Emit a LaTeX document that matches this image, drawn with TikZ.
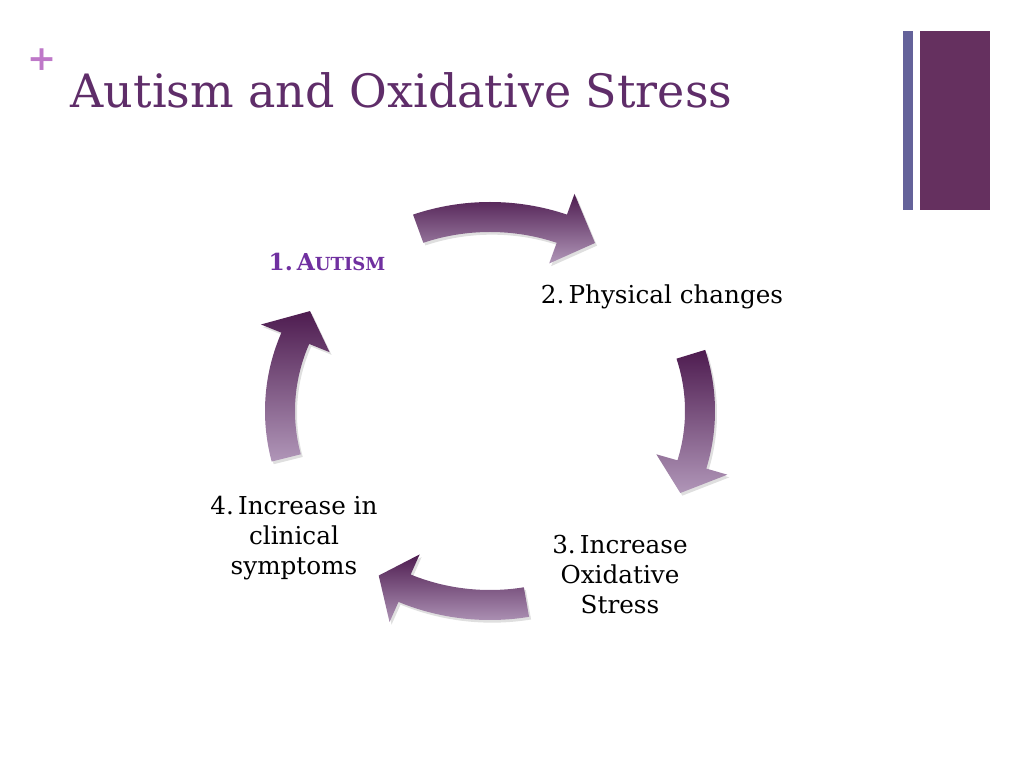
\documentclass[tikz,border=0pt]{standalone}
\usepackage{fontspec}
\setmainfont{DejaVu Serif}
\usetikzlibrary{shadows, positioning}
\definecolor{titlepurple}{RGB}{95,45,105}
\definecolor{pluspink}{RGB}{190,120,200}
\definecolor{barblue}{RGB}{100,98,154}
\definecolor{barplum}{RGB}{101,48,95}
\definecolor{autismpurple}{RGB}{112,48,160}
\definecolor{arrowdark}{RGB}{78,28,80}
\definecolor{arrowlight}{RGB}{176,150,184}

% one curved block arrow of the cycle: tail angle, head base angle, tip angle
\newcommand{\rx}{210}
\newcommand{\ry}{194}
\newcommand{\bw}{15}
\newcommand{\hw}{37}
\newcommand{\cyclearrow}[3]{%
  \path[cyclearrow] ({(\rx+\bw)*cos(#1)},{(\ry+\bw)*sin(#1)})
    arc[start angle=#1, end angle=#2, x radius=\rx+\bw, y radius=\ry+\bw]
    -- ({(\rx+\hw)*cos(#2)},{(\ry+\hw)*sin(#2)})
    -- ({\rx*cos(#3)},{\ry*sin(#3)})
    -- ({(\rx-\hw)*cos(#2)},{(\ry-\hw)*sin(#2)})
    -- ({(\rx-\bw)*cos(#2)},{(\ry-\bw)*sin(#2)})
    arc[start angle=#2, end angle=#1, x radius=\rx-\bw, y radius=\ry-\bw]
    -- cycle;}

\begin{document}
\begin{tikzpicture}[x=0.75pt, y=0.75pt,
        title/.style={anchor=base west, text=titlepurple, font=\fontsize{34.5}{40}\selectfont},
        steplabel/.style={align=center, text=black, font=\fontsize{18.5}{22.5}\selectfont},
        cyclearrow/.style={top color=arrowdark, bottom color=arrowlight,
            drop shadow={shadow xshift=1.5pt, shadow yshift=-2pt, opacity=0.25}}]
    \useasboundingbox (0,0) rectangle (1024,768);

    \node [text=pluspink, font=\bfseries\fontsize{26}{26}\selectfont] (plus) at (42,708) {+};
    \node [title] (heading) at (66,660) {Autism and Oxidative Stress};

    \fill [barblue] (903,737) rectangle (913,558);
    \fill [barplum] (920,737) rectangle (990,558);

    \node [steplabel, text=autismpurple, font=\bfseries\fontsize{17.5}{22.5}\selectfont] (autism) at (327,506) {1.\,A{\fontsize{13.5}{22.5}\selectfont UTISM}};
    \node [steplabel] (physical) at (662,471) {2.\,Physical changes};
    \node [steplabel] (oxidative) at (620,193) {3.\,Increase\\Oxidative\\Stress};
    \node [steplabel] (symptoms) at (294,230) {4.\,Increase in\\clinical\\symptoms};

    \begin{scope}[shift={(490,357)}]
        \cyclearrow{110}{70}{60}
        \cyclearrow{17}{-16}{-25}
        \cyclearrow{-80}{-114}{-122}
        \cyclearrow{194}{158}{149}
    \end{scope}
\end{tikzpicture}
\end{document}
